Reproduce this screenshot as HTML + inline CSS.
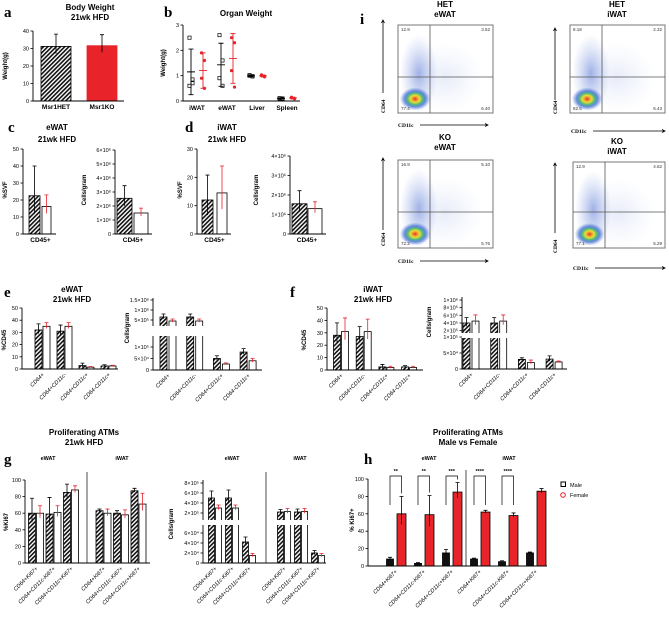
<!DOCTYPE html>
<html><head><meta charset="utf-8"><style>
body{margin:0;background:#fff}
svg{display:block;font-family:"Liberation Sans",Arial,sans-serif}
.t{font-weight:bold;font-size:8px;text-anchor:middle}
.L{font-family:"Liberation Serif",serif;font-weight:bold;font-size:15px}
.tk{font-size:5.5px;text-anchor:end}
.yt{font-size:6px;font-weight:bold;text-anchor:middle}
</style></head><body>
<svg id="fig" width="669" height="621" viewBox="0 0 669 621">
<defs>
<pattern id="hatch" width="3" height="3" patternUnits="userSpaceOnUse" patternTransform="rotate(45)"><rect width="3" height="3" fill="#fff"/><rect width="1.6" height="3" fill="#111"/></pattern>
<radialGradient id="dens"><stop offset="0" stop-color="#e3302b"/><stop offset="0.18" stop-color="#f0a030"/><stop offset="0.32" stop-color="#e8dc3a"/><stop offset="0.48" stop-color="#55c070"/><stop offset="0.68" stop-color="#3f6fd6" stop-opacity="0.8"/><stop offset="1" stop-color="#5070d0" stop-opacity="0"/></radialGradient>
<radialGradient id="cloud"><stop offset="0" stop-color="#2f55c8" stop-opacity="0.45"/><stop offset="1" stop-color="#6d8de0" stop-opacity="0"/></radialGradient>
</defs>
<text class="L" x="4" y="17">a</text>
<text class="t" x="90" y="10">Body Weight</text>
<text class="t" x="90" y="20">21wk HFD</text>
<text class="yt" transform="translate(7,66) rotate(-90)">Weight(g)</text>
<text class="L" x="164" y="17">b</text>
<text class="t" x="246" y="16">Organ Weight</text>
<text class="yt" transform="translate(165,63) rotate(-90)">Weight(g)</text>
<text class="L" x="8" y="132">c</text>
<text class="t" x="57" y="130">eWAT</text>
<text class="t" x="57" y="142">21wk HFD</text>
<text class="yt" transform="translate(7,190) rotate(-90)">%SVF</text>
<text class="yt" transform="translate(86,190) rotate(-90)">Cells/gram</text>
<text class="L" x="185" y="132">d</text>
<text class="t" x="227" y="130">iWAT</text>
<text class="t" x="227" y="142">21wk HFD</text>
<text class="yt" transform="translate(182,190) rotate(-90)">%SVF</text>
<text class="yt" transform="translate(258,190) rotate(-90)">Cells/gram</text>
<text class="L" x="4" y="297">e</text>
<text class="t" x="72" y="292">eWAT</text>
<text class="t" x="72" y="302">21wk HFD</text>
<text class="yt" transform="translate(6,340) rotate(-90)">%CD45</text>
<text class="yt" transform="translate(129,328) rotate(-90)">Cells/gram</text>
<text class="L" x="290" y="297">f</text>
<text class="t" x="373" y="292">iWAT</text>
<text class="t" x="373" y="302">21wk HFD</text>
<text class="yt" transform="translate(306,340) rotate(-90)">%CD45</text>
<text class="yt" transform="translate(431,322) rotate(-90)">Cells/gram</text>
<text class="t" x="84" y="435">Proliferating ATMs</text>
<text class="t" x="84" y="445">21wk HFD</text>
<text class="L" x="4" y="464">g</text>
<text class="yt" transform="translate(8,522) rotate(-90)">%Ki67</text>
<text class="yt" transform="translate(173,524) rotate(-90)">Cells/gram</text>
<text class="t" x="468" y="435">Proliferating ATMs</text>
<text class="t" x="468" y="445">Male vs Female</text>
<text class="L" x="364" y="464">h</text>
<text class="yt" transform="translate(354,520) rotate(-90)">% Ki67+</text>
<text class="L" x="360" y="24">i</text>
<g>
<rect x="561" y="482" width="4.5" height="4.5" fill="none" stroke="#000" stroke-width="1"/>
<text x="570" y="487" font-size="5.5">Male</text>
<circle cx="563" cy="495" r="2.3" fill="none" stroke="#e8232a" stroke-width="1"/>
<text x="570" y="497" font-size="5.5">Female</text>
</g>
</svg>
<script>
// ---- data ----
const aCats=['Msr1HET','Msr1KO'];
const aVals=[31.2,31.6];
const aSd=[7,6.3];
const bCats=['iWAT','eWAT','Liver','Spleen'];
const bHetPts=[[2.5,0.85,0.6,0.7],[2.6,1.6,0.9,0.6],[1.0,0.98,1.02,0.97],[0.1,0.09,0.11,0.1]];
const bKoPts=[[1.9,1.6,0.9,0.5],[2.5,2.3,1.2,0.55],[1.0,0.95,1.03,0.98],[0.15,0.1,0.12,0.09]];
const bHetMean=[1.15,1.43,0.99,0.1];
const bHetSd=[0.9,0.85,0.03,0.02];
const bKoMean=[1.2,1.68,0.99,0.12];
const bKoSd=[0.7,0.98,0.04,0.03];
const cCats=['CD45+'];
const c1Het=[22.5], c1HetSd=[17.5], c1Ko=[16.2], c1KoSd=[6.8];
const c2Het=[2.55e6], c2HetSd=[0.9e6], c2Ko=[1.5e6], c2KoSd=[0.35e6];
const d1Het=[12], d1HetSd=[8.8], d1Ko=[14.5], d1KoSd=[9.5];
const d2Het=[1.55e6], d2HetSd=[0.67e6], d2Ko=[1.3e6], d2KoSd=[0.35e6];
const efCats=['CD64+','CD64+CD11c-','CD64+CD11c+','CD64-CD11c+'];
const e1Het=[32,31,2.8,2.5], e1HetSd=[5,5,2,1], e1Ko=[35,35,1.5,2.5], e1KoSd=[3,3,0.5,0.6];
const e2Het=[6.5e5,6.5e5,5e4,7.8e4], e2HetSd=[1.5e5,1.5e5,1.2e4,1.5e4], e2Ko=[4.5e5,4.5e5,2.6e4,4e4], e2KoSd=[1e5,1e5,5e3,1e4];
const f1Het=[28,27,2.5,2.5], f1HetSd=[10,8,2,1], f1Ko=[31,31,2,2], f1KoSd=[11,10,1,1];
const f2Het=[4e5,4e5,3e4,3.1e4], f2HetSd=[1.4e5,1.4e5,5e3,1e4], f2Ko=[4.5e5,4.5e5,2e4,2.2e4], f2KoSd=[1.6e5,1.6e5,8e3,3e3];
const ghCats=['CD64+Ki67+','CD64+CD11c-Ki67+','CD64+CD11c+Ki67+','CD64+Ki67+','CD64+CD11c-Ki67+','CD64+CD11c+Ki67+'];
const g1Het=[60,59,85,63,60,87], g1HetSd=[18,20,10,2,3,3], g1Ko=[60,61,88,60,58,71], g1KoSd=[9,8,5,5,6,13];
const g2Het=[5e5,5e5,4.2e4,2.2e5,2.2e5,2e4], g2HetSd=[1.4e5,1.6e5,1e4,5e4,6e4,5e3], g2Ko=[3e5,3e5,1.5e4,2.3e5,2.3e5,1.5e4], g2KoSd=[6e4,6e4,4e3,6e4,6e4,4e3];
const hMale=[8,3,15,8,5,15], hMaleSd=[2,1,4,1,1,1], hFemale=[60,59,85,62,58,86], hFemaleSd=[20,22,11,2,3,3];
const hSig=['**','**','***','****','****'];
const flowNums=[['12.9','3.52','77.4','6.40'],['8.18','2.32','82.5','6.43'],['16.9','5.10','72.2','5.76'],['12.9','4.62','77.1','5.29']];

// ---- helpers ----
const NS='http://www.w3.org/2000/svg';
const svg=document.getElementById('fig');
function mk(tag,a,p){const e=document.createElementNS(NS,tag);for(const k in a)e.setAttribute(k,a[k]);(p||svg).appendChild(e);return e;}
function lin(v0,v1,p0,p1){return v=>p0+(v-v0)*(p1-p0)/(v1-v0);}
function broken(loMax,lo,hi){return v=>v<=loMax?lo(v):hi(v);}
const RED='#e8232a';

function chart(c){
  const g=mk('g',{});
  
  
  const y=c.y;
  c.series.forEach(s=>{
    s.vals.forEach((v,i)=>{
      if(v==null)return;
      const cx=c.catX(i)+s.off, top=y(v);
      const r=mk('rect',{x:cx-s.w/2,y:top,width:s.w,height:c.base-top,fill:s.fill,stroke:s.stroke||'#000','stroke-width':0.8},g);
      
      
      const sd=s.sd[i];
      const e=mk('path',{d:`M${cx},${y(v-sd*0.6)}V${y(v+sd)}M${cx-2},${y(v+sd)}H${cx+2}`,stroke:s.err||'#000','stroke-width':0.8,fill:'none'},g);
      
      
    });
  });
  if(c.gap){const w=mk('rect',{x:c.axX-3,y:c.gap[0],width:c.xEnd-c.axX+4,height:c.gap[1]-c.gap[0],fill:'#fff'},g);
    
    }
  const ax=mk('path',{d:c.gap?`M${c.axX},${c.top}V${c.gap[0]}M${c.axX},${c.gap[1]}V${c.base}`:`M${c.axX},${c.top}V${c.base}`,stroke:'#000','stroke-width':0.9,fill:'none'},g);
  
  
  const xa=mk('line',{x1:c.axX,y1:c.base,x2:c.xEnd,y2:c.base,stroke:'#000','stroke-width':0.9},g);
  
  
  c.ticks.forEach((t,i)=>{
    const ty=y(t);
    mk('line',{x1:c.axX-2.5,y1:ty,x2:c.axX,y2:ty,stroke:'#000','stroke-width':0.8},g);
    const tx=mk('text',{x:c.axX-4,y:ty+2,class:'tk'},g);
    tx.textContent=c.tickLabels[i];
    
    
  });
  c.cats.forEach((cat,i)=>{
    const cx=c.catX(i);
    let t;
    if(c.rot){t=mk('text',{x:cx+2,y:c.base+6,'font-size':5.5,'font-style':'italic','text-anchor':'end',transform:`rotate(-45 ${cx+2} ${c.base+6})`},g);}
    else{t=mk('text',{x:cx,y:c.base+8,'font-size':6.5,'font-weight':'bold','text-anchor':'middle'},g);}
    t.textContent=cat;
    
    
  });
  return g;
}
const sup=(m,e)=>m+'×10'+['⁰','¹','²','³','⁴','⁵','⁶'][e];

// a
chart({name:'chart-a',axX:33,xEnd:124,top:31,base:101,y:lin(0,40,101,31),ticks:[0,10,20,30,40],tickLabels:['0','10','20','30','40'],cats:aCats,catX:i=>56+i*46,
  series:[{key:'het',vals:[aVals[0],null],sd:[aSd[0],0],off:0,w:30,fill:'url(#hatch)'},{key:'ko',vals:[null,aVals[1]],sd:[0,aSd[1]],off:0,w:30,fill:RED,stroke:RED}]});

// b scatter
(function(){
  const y=lin(0,3,101,25), g=mk('g',{});
  
  
  mk('path',{d:'M183,25V101H300',stroke:'#000','stroke-width':0.9,fill:'none'},g);
  [0,1,2,3].forEach(t=>{mk('line',{x1:180.5,y1:y(t),x2:183,y2:y(t),stroke:'#000','stroke-width':0.8},g);
    const tx=mk('text',{x:179,y:y(t)+2,class:'tk'},g);tx.textContent=String(t);
    
    });
  bCats.forEach((cat,i)=>{
    const cx=197+i*30;
    const t=mk('text',{x:cx,y:110,'font-size':6.5,'font-weight':'bold','text-anchor':'middle'},g);t.textContent=cat;
    
    
    [[bHetPts,bHetMean,bHetSd,-6,'#000'],[bKoPts,bKoMean,bKoSd,6,RED]].forEach(([pts,m,sd,off,col])=>{
      const x=cx+off;
      const e=mk('path',{d:`M${x-4},${y(m[i])}H${x+4}M${x},${y(m[i]-sd[i])}V${y(m[i]+sd[i])}M${x-2.5},${y(m[i]-sd[i])}H${x+2.5}M${x-2.5},${y(m[i]+sd[i])}H${x+2.5}`,stroke:col,'stroke-width':0.9,fill:'none'},g);
      
      
      pts[i].forEach((v,j)=>{
        const p=col==RED?mk('circle',{cx:x+(j%2?1:-1)*1.5,cy:y(v),r:1.6,fill:RED},g):mk('rect',{x:x-1.6+(j%2?1:-1)*1.5,y:y(v)-1.6,width:3.2,height:3.2,fill:'none',stroke:'#000','stroke-width':0.7},g);
        
        
      });
    });
  });
})();

// c, d
const hetS=(vals,sd,off,w)=>({key:'het',vals,sd,off,w,fill:'url(#hatch)'});
const koS=(vals,sd,off,w)=>({key:'ko',vals,sd,off,w,fill:'#fff',err:RED});
chart({name:'chart-c1',axX:23,xEnd:56,top:149,base:234,y:lin(0,50,234,149),ticks:[0,10,20,30,40,50],tickLabels:['0','10','20','30','40','50'],cats:cCats,catX:i=>40.5,series:[hetS(c1Het,c1HetSd,-6,11),koS(c1Ko,c1KoSd,6,9)]});
chart({name:'chart-c2',axX:115,xEnd:152,top:150,base:234,y:lin(0,6e6,234,150),ticks:[0,1e6,2e6,3e6,4e6,5e6,6e6],tickLabels:['0',sup(1,6),sup(2,6),sup(3,6),sup(4,6),sup(5,6),sup(6,6)],cats:cCats,catX:i=>133,series:[hetS(c2Het,c2HetSd,-8.5,15),koS(c2Ko,c2KoSd,8,14)]});
chart({name:'chart-d1',axX:197,xEnd:231,top:149,base:234,y:lin(0,30,234,149),ticks:[0,10,20,30],tickLabels:['0','10','20','30'],cats:cCats,catX:i=>214.5,series:[hetS(d1Het,d1HetSd,-7,11),koS(d1Ko,d1KoSd,7.5,10)]});
chart({name:'chart-d2',axX:290,xEnd:326,top:156,base:234,y:lin(0,4e6,234,156),ticks:[0,1e6,2e6,3e6,4e6],tickLabels:['0',sup(1,6),sup(2,6),sup(3,6),sup(4,6)],cats:cCats,catX:i=>307,series:[hetS(d2Het,d2HetSd,-7.5,15),koS(d2Ko,d2KoSd,8,14)]});

// e, f
chart({name:'chart-e1',axX:22,xEnd:118,top:308,base:369,y:lin(0,50,369,308),ticks:[0,10,20,30,40,50],tickLabels:['0','10','20','30','40','50'],cats:efCats,catX:i=>42.5+i*22,rot:true,series:[hetS(e1Het,e1HetSd,-4,7),koS(e1Ko,e1KoSd,4,7)]});
chart({name:'chart-e2',axX:153,xEnd:262,top:298,base:370,gap:[326,336],y:broken(1.4e5,lin(0,1e5,370,347),lin(5e5,1.5e6,320,300)),ticks:[0,5e4,1e5,5e5,1e6,1.5e6],tickLabels:['0',sup(5,4),sup(1,5),sup(5,5),sup(1,6),sup('1.5',6)],cats:efCats,catX:i=>168+i*26.7,rot:true,series:[hetS(e2Het,e2HetSd,-4.5,7),koS(e2Ko,e2KoSd,4.5,7)]});
chart({name:'chart-f1',axX:327,xEnd:423,top:308,base:370,y:lin(0,50,370,308),ticks:[0,10,20,30,40,50],tickLabels:['0','10','20','30','40','50'],cats:efCats,catX:i=>341+i*22.7,rot:true,series:[hetS(f1Het,f1HetSd,-4,7),koS(f1Ko,f1KoSd,4,7)]});
chart({name:'chart-f2',axX:462,xEnd:567,top:297,base:369,gap:[333,338],y:broken(1.1e5,lin(0,5e4,369,353),lin(4e5,1e6,323,300)),ticks:[0,5e4,1e5,2e5,4e5,6e5,8e5,1e6],tickLabels:['0',sup(5,4),sup(1,5),sup(2,5),sup(4,5),sup(6,5),sup(8,5),sup(1,6)],cats:efCats,catX:i=>471+i*27.7,rot:true,series:[hetS(f2Het,f2HetSd,-4.5,7),koS(f2Ko,f2KoSd,4.5,7)]});

// g
const gx1=i=>36+i*17.5+(i>=3?15:0);
chart({name:'chart-g1',axX:25,xEnd:150,top:480,base:563,y:lin(0,100,563,480),ticks:[0,20,40,60,80,100],tickLabels:['0','20','40','60','80','100'],cats:ghCats,catX:gx1,rot:true,series:[hetS(g1Het,g1HetSd,-4,7),koS(g1Ko,g1KoSd,4,7)]});
const gx2=i=>215+i*17+(i>=3?18:0);
chart({name:'chart-g2',axX:203,xEnd:326,top:480,base:563,gap:[520,525],y:broken(7.5e4,lin(0,6e4,563,533),lin(2e5,8e5,513,483)),ticks:[0,2e4,4e4,6e4,2e5,4e5,6e5,8e5],tickLabels:['0',sup(2,4),sup(4,4),sup(6,4),sup(2,5),sup(4,5),sup(6,5),sup(8,5)],cats:ghCats,catX:gx2,rot:true,series:[hetS(g2Het,g2HetSd,-3.5,6),koS(g2Ko,g2KoSd,3.5,6)]});
// h
const hx=i=>395.5+i*28;
const hy=lin(0,100,566,479);
chart({name:'chart-h',axX:368,xEnd:547,top:479,base:566,y:hy,ticks:[0,20,40,60,80,100],tickLabels:['0','20','40','60','80','100'],cats:ghCats,catX:hx,rot:true,
  series:[{key:'male',vals:hMale,sd:hMaleSd,off:-5.5,w:7,fill:'#111'},{key:'female',vals:hFemale,sd:hFemaleSd,off:6,w:9,fill:RED,err:'#000'}]});
hSig.forEach((s,i)=>{
  const x1=hx(i)-5.5,x2=hx(i)+6;
  const p=mk('path',{d:`M${x1},505V476H${x2}V${Math.min(505,hy(hFemale[i]+hFemaleSd[i])-3)}`,stroke:'#000','stroke-width':0.7,fill:'none'});
  
  
  const t=mk('text',{x:(x1+x2)/2,y:473,'font-size':5.5,'font-weight':'bold','text-anchor':'middle'});
  t.textContent=s;
  
  
});
// dividers & group labels
[[87,472,563],[266,472,563],[466,470,566]].forEach(([x,a,b])=>{const l=mk('line',{x1:x,y1:a,x2:x,y2:b,stroke:'#000','stroke-width':0.7});
  
  });
[['eWAT',48],['iWAT',122],['eWAT',232],['iWAT',300],['eWAT',429],['iWAT',509]].forEach(([s,x])=>{const t=mk('text',{x:x,y:460,'font-size':5.5,'font-weight':'bold','text-anchor':'middle'});
  t.textContent=s;
  
  });

// i flow plots
function flow(name,bx,by,bw,bh,vx,hyy,nums,t1,t2,tx,ty,yl,xl){
  const g=mk('g',{});
  
  
  mk('ellipse',{cx:bx+0.22*bw,cy:by+0.55*bh,rx:0.2*bw,ry:0.45*bh,fill:'url(#cloud)'},g);
  mk('ellipse',{cx:bx+0.5*bw,cy:by+0.6*bh,rx:0.4*bw,ry:0.4*bh,fill:'url(#cloud)',opacity:0.25},g);
  mk('ellipse',{cx:bx+0.18*bw,cy:by+0.84*bh,rx:0.16*bw,ry:0.13*bh,fill:'url(#dens)'},g);
  const r=mk('rect',{x:bx,y:by,width:bw,height:bh,fill:'none',stroke:'#777','stroke-width':1},g);
  
  
  mk('line',{x1:vx,y1:by,x2:vx,y2:by+bh,stroke:'#555','stroke-width':0.8},g);
  mk('line',{x1:bx,y1:hyy,x2:bx+bw,y2:hyy,stroke:'#555','stroke-width':0.8},g);
  const pos=[[bx+3,by+6,'start'],[bx+bw-3,by+6,'end'],[bx+3,by+bh-3,'start'],[bx+bw-3,by+bh-3,'end']];
  nums.forEach((n,k)=>{const t=mk('text',{x:pos[k][0],y:pos[k][1],'font-size':4.5,'text-anchor':pos[k][2],fill:'#333'},g);
    t.textContent=n;
    
    });
  const a=mk('text',{x:tx,y:ty,class:'t'},g);a.textContent=t1;
  
  
  const b=mk('text',{x:tx,y:ty+10,class:'t'},g);b.textContent=t2;
  
  
  mk('path',{d:`M${yl[0]},${yl[2]}V${yl[1]}M${yl[0]-1.5},${yl[1]+3}L${yl[0]},${yl[1]}L${yl[0]+1.5},${yl[1]+3}`,stroke:'#000','stroke-width':0.8,fill:'none'},g);
  const c=mk('text',{x:0,y:0,'font-size':5.5,'font-weight':'bold','font-family':'Liberation Serif,serif','text-anchor':'start',transform:`translate(${yl[0]+2},${yl[3]}) rotate(-90)`},g);c.textContent='CD64';
  
  
  const d=mk('text',{x:xl[0],y:xl[1],'font-size':5.5,'font-weight':'bold','font-family':'Liberation Serif,serif'},g);d.textContent='CD11c';
  
  
  mk('path',{d:`M${xl[0]+22},${xl[1]-2}H${xl[2]}M${xl[2]-3},${xl[1]-3.5}L${xl[2]},${xl[1]-2}L${xl[2]-3},${xl[1]-0.5}`,stroke:'#000','stroke-width':0.8,fill:'none'},g);
}
flow('flow-het-ewat',398,25,95,88,430,77,flowNums[0],'HET','eWAT',445,7,[383,20,93,113],[398,127,488]);
flow('flow-het-iwat',570,25,95,88,602,77,flowNums[1],'HET','iWAT',617,7,[555,28,100,114],[571,133,665]);
flow('flow-ko-ewat',398,160,95,88,430,212,flowNums[2],'KO','eWAT',445,140,[383,158,230,246],[398,263,488]);
flow('flow-ko-iwat',573,162,92,86,605,212,flowNums[3],'KO','iWAT',617,144,[555,163,233,253],[573,270,665]);
</script>
</body></html>
